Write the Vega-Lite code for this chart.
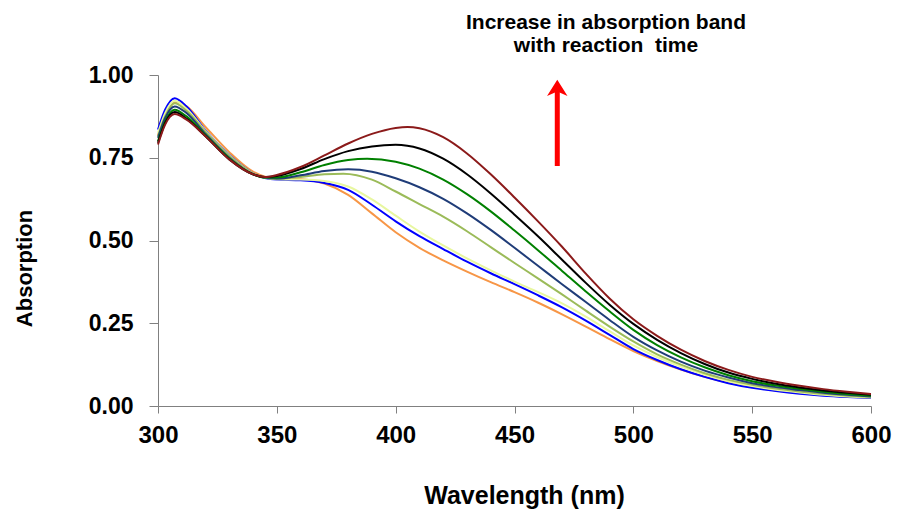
{
  "$schema": "https://vega.github.io/schema/vega-lite/v6.json",
  "width": 713,
  "height": 331,
  "autosize": {"type": "none"},
  "padding": {"left": 158, "top": 75, "right": 27, "bottom": 105},
  "config": {"view": {"stroke": null}, "font": "Liberation Sans"},
  "layer": [
    {
      "data": {"values": [
        {"s":"t1","w":300,"a":0.818},{"s":"t1","w":303,"a":0.872},{"s":"t1","w":307,"a":0.918},{"s":"t1","w":312,"a":0.905},{"s":"t1","w":320,"a":0.843},{"s":"t1","w":330,"a":0.767},{"s":"t1","w":340,"a":0.708},{"s":"t1","w":345,"a":0.693},{"s":"t1","w":350,"a":0.688},{"s":"t1","w":360,"a":0.686},{"s":"t1","w":370,"a":0.672},{"s":"t1","w":380,"a":0.638},{"s":"t1","w":390,"a":0.582},{"s":"t1","w":400,"a":0.525},{"s":"t1","w":410,"a":0.478},{"s":"t1","w":420,"a":0.440},{"s":"t1","w":430,"a":0.406},{"s":"t1","w":440,"a":0.374},{"s":"t1","w":450,"a":0.344},{"s":"t1","w":460,"a":0.312},{"s":"t1","w":470,"a":0.277},{"s":"t1","w":480,"a":0.240},{"s":"t1","w":490,"a":0.202},{"s":"t1","w":500,"a":0.166},{"s":"t1","w":510,"a":0.136},{"s":"t1","w":520,"a":0.110},{"s":"t1","w":530,"a":0.088},{"s":"t1","w":540,"a":0.070},{"s":"t1","w":550,"a":0.057},{"s":"t1","w":560,"a":0.047},{"s":"t1","w":570,"a":0.039},{"s":"t1","w":580,"a":0.033},{"s":"t1","w":590,"a":0.029},{"s":"t1","w":600,"a":0.026},
        {"s":"t2","w":300,"a":0.835},{"s":"t2","w":303,"a":0.895},{"s":"t2","w":307,"a":0.930},{"s":"t2","w":312,"a":0.905},{"s":"t2","w":320,"a":0.832},{"s":"t2","w":330,"a":0.758},{"s":"t2","w":340,"a":0.703},{"s":"t2","w":345,"a":0.689},{"s":"t2","w":350,"a":0.684},{"s":"t2","w":360,"a":0.682},{"s":"t2","w":370,"a":0.674},{"s":"t2","w":380,"a":0.653},{"s":"t2","w":390,"a":0.608},{"s":"t2","w":400,"a":0.558},{"s":"t2","w":410,"a":0.513},{"s":"t2","w":420,"a":0.474},{"s":"t2","w":430,"a":0.436},{"s":"t2","w":440,"a":0.401},{"s":"t2","w":450,"a":0.368},{"s":"t2","w":460,"a":0.334},{"s":"t2","w":470,"a":0.298},{"s":"t2","w":480,"a":0.258},{"s":"t2","w":490,"a":0.215},{"s":"t2","w":500,"a":0.172},{"s":"t2","w":510,"a":0.139},{"s":"t2","w":520,"a":0.111},{"s":"t2","w":530,"a":0.088},{"s":"t2","w":540,"a":0.069},{"s":"t2","w":550,"a":0.055},{"s":"t2","w":560,"a":0.045},{"s":"t2","w":570,"a":0.037},{"s":"t2","w":580,"a":0.031},{"s":"t2","w":590,"a":0.027},{"s":"t2","w":600,"a":0.024},
        {"s":"t3","w":300,"a":0.825},{"s":"t3","w":303,"a":0.885},{"s":"t3","w":307,"a":0.922},{"s":"t3","w":312,"a":0.898},{"s":"t3","w":320,"a":0.830},{"s":"t3","w":330,"a":0.757},{"s":"t3","w":340,"a":0.703},{"s":"t3","w":345,"a":0.690},{"s":"t3","w":350,"a":0.685},{"s":"t3","w":360,"a":0.684},{"s":"t3","w":370,"a":0.680},{"s":"t3","w":380,"a":0.663},{"s":"t3","w":390,"a":0.624},{"s":"t3","w":400,"a":0.575},{"s":"t3","w":410,"a":0.527},{"s":"t3","w":420,"a":0.485},{"s":"t3","w":430,"a":0.446},{"s":"t3","w":440,"a":0.410},{"s":"t3","w":450,"a":0.376},{"s":"t3","w":460,"a":0.344},{"s":"t3","w":470,"a":0.310},{"s":"t3","w":480,"a":0.270},{"s":"t3","w":490,"a":0.226},{"s":"t3","w":500,"a":0.183},{"s":"t3","w":510,"a":0.148},{"s":"t3","w":520,"a":0.119},{"s":"t3","w":530,"a":0.095},{"s":"t3","w":540,"a":0.075},{"s":"t3","w":550,"a":0.060},{"s":"t3","w":560,"a":0.049},{"s":"t3","w":570,"a":0.041},{"s":"t3","w":580,"a":0.034},{"s":"t3","w":590,"a":0.029},{"s":"t3","w":600,"a":0.026},
        {"s":"t4","w":300,"a":0.815},{"s":"t4","w":303,"a":0.875},{"s":"t4","w":307,"a":0.915},{"s":"t4","w":312,"a":0.892},{"s":"t4","w":320,"a":0.828},{"s":"t4","w":330,"a":0.755},{"s":"t4","w":340,"a":0.702},{"s":"t4","w":345,"a":0.690},{"s":"t4","w":350,"a":0.686},{"s":"t4","w":360,"a":0.692},{"s":"t4","w":370,"a":0.700},{"s":"t4","w":378,"a":0.702},{"s":"t4","w":390,"a":0.684},{"s":"t4","w":400,"a":0.648},{"s":"t4","w":410,"a":0.610},{"s":"t4","w":420,"a":0.572},{"s":"t4","w":430,"a":0.528},{"s":"t4","w":440,"a":0.480},{"s":"t4","w":450,"a":0.432},{"s":"t4","w":460,"a":0.385},{"s":"t4","w":470,"a":0.337},{"s":"t4","w":480,"a":0.288},{"s":"t4","w":490,"a":0.240},{"s":"t4","w":500,"a":0.195},{"s":"t4","w":510,"a":0.156},{"s":"t4","w":520,"a":0.125},{"s":"t4","w":530,"a":0.099},{"s":"t4","w":540,"a":0.079},{"s":"t4","w":550,"a":0.064},{"s":"t4","w":560,"a":0.053},{"s":"t4","w":570,"a":0.044},{"s":"t4","w":580,"a":0.037},{"s":"t4","w":590,"a":0.031},{"s":"t4","w":600,"a":0.028},
        {"s":"t5","w":300,"a":0.810},{"s":"t5","w":303,"a":0.870},{"s":"t5","w":307,"a":0.905},{"s":"t5","w":312,"a":0.885},{"s":"t5","w":320,"a":0.822},{"s":"t5","w":330,"a":0.750},{"s":"t5","w":340,"a":0.700},{"s":"t5","w":345,"a":0.690},{"s":"t5","w":350,"a":0.687},{"s":"t5","w":360,"a":0.697},{"s":"t5","w":370,"a":0.710},{"s":"t5","w":380,"a":0.715},{"s":"t5","w":390,"a":0.708},{"s":"t5","w":400,"a":0.688},{"s":"t5","w":410,"a":0.661},{"s":"t5","w":420,"a":0.626},{"s":"t5","w":430,"a":0.582},{"s":"t5","w":440,"a":0.532},{"s":"t5","w":450,"a":0.478},{"s":"t5","w":460,"a":0.423},{"s":"t5","w":470,"a":0.368},{"s":"t5","w":480,"a":0.314},{"s":"t5","w":490,"a":0.260},{"s":"t5","w":500,"a":0.209},{"s":"t5","w":510,"a":0.168},{"s":"t5","w":520,"a":0.134},{"s":"t5","w":530,"a":0.107},{"s":"t5","w":540,"a":0.086},{"s":"t5","w":550,"a":0.069},{"s":"t5","w":560,"a":0.057},{"s":"t5","w":570,"a":0.048},{"s":"t5","w":580,"a":0.040},{"s":"t5","w":590,"a":0.034},{"s":"t5","w":600,"a":0.029},
        {"s":"t6","w":300,"a":0.800},{"s":"t6","w":303,"a":0.860},{"s":"t6","w":307,"a":0.895},{"s":"t6","w":312,"a":0.875},{"s":"t6","w":320,"a":0.818},{"s":"t6","w":330,"a":0.748},{"s":"t6","w":340,"a":0.700},{"s":"t6","w":345,"a":0.690},{"s":"t6","w":350,"a":0.690},{"s":"t6","w":360,"a":0.706},{"s":"t6","w":370,"a":0.728},{"s":"t6","w":380,"a":0.743},{"s":"t6","w":388,"a":0.747},{"s":"t6","w":400,"a":0.738},{"s":"t6","w":410,"a":0.717},{"s":"t6","w":420,"a":0.684},{"s":"t6","w":430,"a":0.640},{"s":"t6","w":440,"a":0.588},{"s":"t6","w":450,"a":0.530},{"s":"t6","w":460,"a":0.470},{"s":"t6","w":470,"a":0.408},{"s":"t6","w":480,"a":0.346},{"s":"t6","w":490,"a":0.286},{"s":"t6","w":500,"a":0.230},{"s":"t6","w":510,"a":0.184},{"s":"t6","w":520,"a":0.147},{"s":"t6","w":530,"a":0.117},{"s":"t6","w":540,"a":0.093},{"s":"t6","w":550,"a":0.075},{"s":"t6","w":560,"a":0.062},{"s":"t6","w":570,"a":0.052},{"s":"t6","w":580,"a":0.043},{"s":"t6","w":590,"a":0.036},{"s":"t6","w":600,"a":0.031},
        {"s":"t7","w":300,"a":0.795},{"s":"t7","w":303,"a":0.855},{"s":"t7","w":307,"a":0.888},{"s":"t7","w":312,"a":0.868},{"s":"t7","w":320,"a":0.815},{"s":"t7","w":330,"a":0.745},{"s":"t7","w":340,"a":0.700},{"s":"t7","w":345,"a":0.692},{"s":"t7","w":350,"a":0.695},{"s":"t7","w":360,"a":0.716},{"s":"t7","w":370,"a":0.746},{"s":"t7","w":380,"a":0.770},{"s":"t7","w":390,"a":0.784},{"s":"t7","w":400,"a":0.789},{"s":"t7","w":410,"a":0.778},{"s":"t7","w":420,"a":0.747},{"s":"t7","w":430,"a":0.700},{"s":"t7","w":440,"a":0.642},{"s":"t7","w":450,"a":0.578},{"s":"t7","w":460,"a":0.512},{"s":"t7","w":470,"a":0.442},{"s":"t7","w":480,"a":0.372},{"s":"t7","w":490,"a":0.306},{"s":"t7","w":500,"a":0.248},{"s":"t7","w":510,"a":0.200},{"s":"t7","w":520,"a":0.160},{"s":"t7","w":530,"a":0.127},{"s":"t7","w":540,"a":0.101},{"s":"t7","w":550,"a":0.082},{"s":"t7","w":560,"a":0.067},{"s":"t7","w":570,"a":0.056},{"s":"t7","w":580,"a":0.047},{"s":"t7","w":590,"a":0.040},{"s":"t7","w":600,"a":0.034},
        {"s":"t8","w":300,"a":0.790},{"s":"t8","w":303,"a":0.850},{"s":"t8","w":307,"a":0.882},{"s":"t8","w":312,"a":0.865},{"s":"t8","w":320,"a":0.815},{"s":"t8","w":330,"a":0.745},{"s":"t8","w":340,"a":0.700},{"s":"t8","w":345,"a":0.692},{"s":"t8","w":350,"a":0.698},{"s":"t8","w":360,"a":0.722},{"s":"t8","w":370,"a":0.757},{"s":"t8","w":380,"a":0.793},{"s":"t8","w":390,"a":0.822},{"s":"t8","w":400,"a":0.840},{"s":"t8","w":405,"a":0.843},{"s":"t8","w":410,"a":0.839},{"s":"t8","w":420,"a":0.812},{"s":"t8","w":430,"a":0.763},{"s":"t8","w":440,"a":0.700},{"s":"t8","w":450,"a":0.630},{"s":"t8","w":460,"a":0.557},{"s":"t8","w":470,"a":0.481},{"s":"t8","w":480,"a":0.400},{"s":"t8","w":490,"a":0.325},{"s":"t8","w":500,"a":0.262},{"s":"t8","w":510,"a":0.212},{"s":"t8","w":520,"a":0.170},{"s":"t8","w":530,"a":0.136},{"s":"t8","w":540,"a":0.109},{"s":"t8","w":550,"a":0.088},{"s":"t8","w":560,"a":0.073},{"s":"t8","w":570,"a":0.061},{"s":"t8","w":580,"a":0.051},{"s":"t8","w":590,"a":0.043},{"s":"t8","w":600,"a":0.036}
      ]},
      "mark": {"type": "line", "interpolate": "monotone", "strokeWidth": 2},
      "encoding": {
        "x": {"field": "w", "type": "quantitative",
          "scale": {"domain": [300, 600], "nice": false, "zero": false},
          "axis": {"values": [300,350,400,450,500,550,600], "grid": false, "title": "Wavelength (nm)",
            "domainColor": "#808080", "tickColor": "#808080", "tickSize": 7, "labelPadding": 10,
            "labelFont": "Liberation Sans", "labelFontSize": 24, "labelFontWeight": "bold", "labelColor": "#000000",
            "titleFont": "Liberation Sans", "titleFontSize": 25, "titleFontWeight": "bold", "titleColor": "#000000",
            "titleX": 366, "titleY": 97, "titleBaseline": "alphabetic", "titleAnchor": null, "titleAlign": "center",
            "labelFlush": false, "labelOverlap": false}},
        "y": {"field": "a", "type": "quantitative",
          "scale": {"domain": [0, 1], "nice": false},
          "axis": {"values": [0,0.25,0.5,0.75,1], "format": ".2f", "grid": false, "title": "Absorption",
            "domainColor": "#808080", "tickColor": "#808080", "tickSize": 9, "labelPadding": 16,
            "labelFont": "Liberation Sans", "labelFontSize": 23, "labelFontWeight": "bold", "labelColor": "#000000",
            "titleFont": "Liberation Sans", "titleFontSize": 22, "titleFontWeight": "bold", "titleColor": "#000000",
            "titleX": -127, "titleY": 193, "titleAngle": -90, "titleBaseline": "alphabetic", "titleAlign": "center", "titleAnchor": null,
            "labelFlush": false, "labelOverlap": false}},
        "color": {"field": "s", "type": "nominal", "legend": null,
          "scale": {"domain": ["t1","t2","t3","t4","t5","t6","t7","t8"],
            "range": ["#F79646","#0000FF","#E8F7A0","#9BBB59","#1F3C78","#008000","#000000","#8B1A1A"]}}
      }
    },
    {
      "data": {"values": [
        {"w": 488.5, "a": 1.139, "label": "Increase in absorption band"},
        {"w": 488.5, "a": 1.0695, "label": "with reaction\u00a0 time"}
      ]},
      "mark": {"type": "text", "font": "Liberation Sans", "fontSize": 21, "fontWeight": "bold", "align": "center", "baseline": "alphabetic", "color": "#000000"},
      "encoding": {
        "x": {"field": "w", "type": "quantitative"},
        "y": {"field": "a", "type": "quantitative"},
        "text": {"field": "label"}
      }
    },
    {
      "data": {"values": [{"w": 468, "a1": 0.725, "a2": 0.955}]},
      "mark": {"type": "rule", "color": "#FF0000", "strokeWidth": 5},
      "encoding": {
        "x": {"field": "w", "type": "quantitative"},
        "y": {"field": "a1", "type": "quantitative"},
        "y2": {"field": "a2"}
      }
    },
    {
      "data": {"values": [{"w": 468, "a": 0.955}]},
      "mark": {"type": "point", "shape": "M0,-1L1,0.6L0,0.15L-1,0.6Z", "filled": true, "color": "#FF0000", "opacity": 1, "size": 420},
      "encoding": {
        "x": {"field": "w", "type": "quantitative"},
        "y": {"field": "a", "type": "quantitative"}
      }
    }
  ]
}
